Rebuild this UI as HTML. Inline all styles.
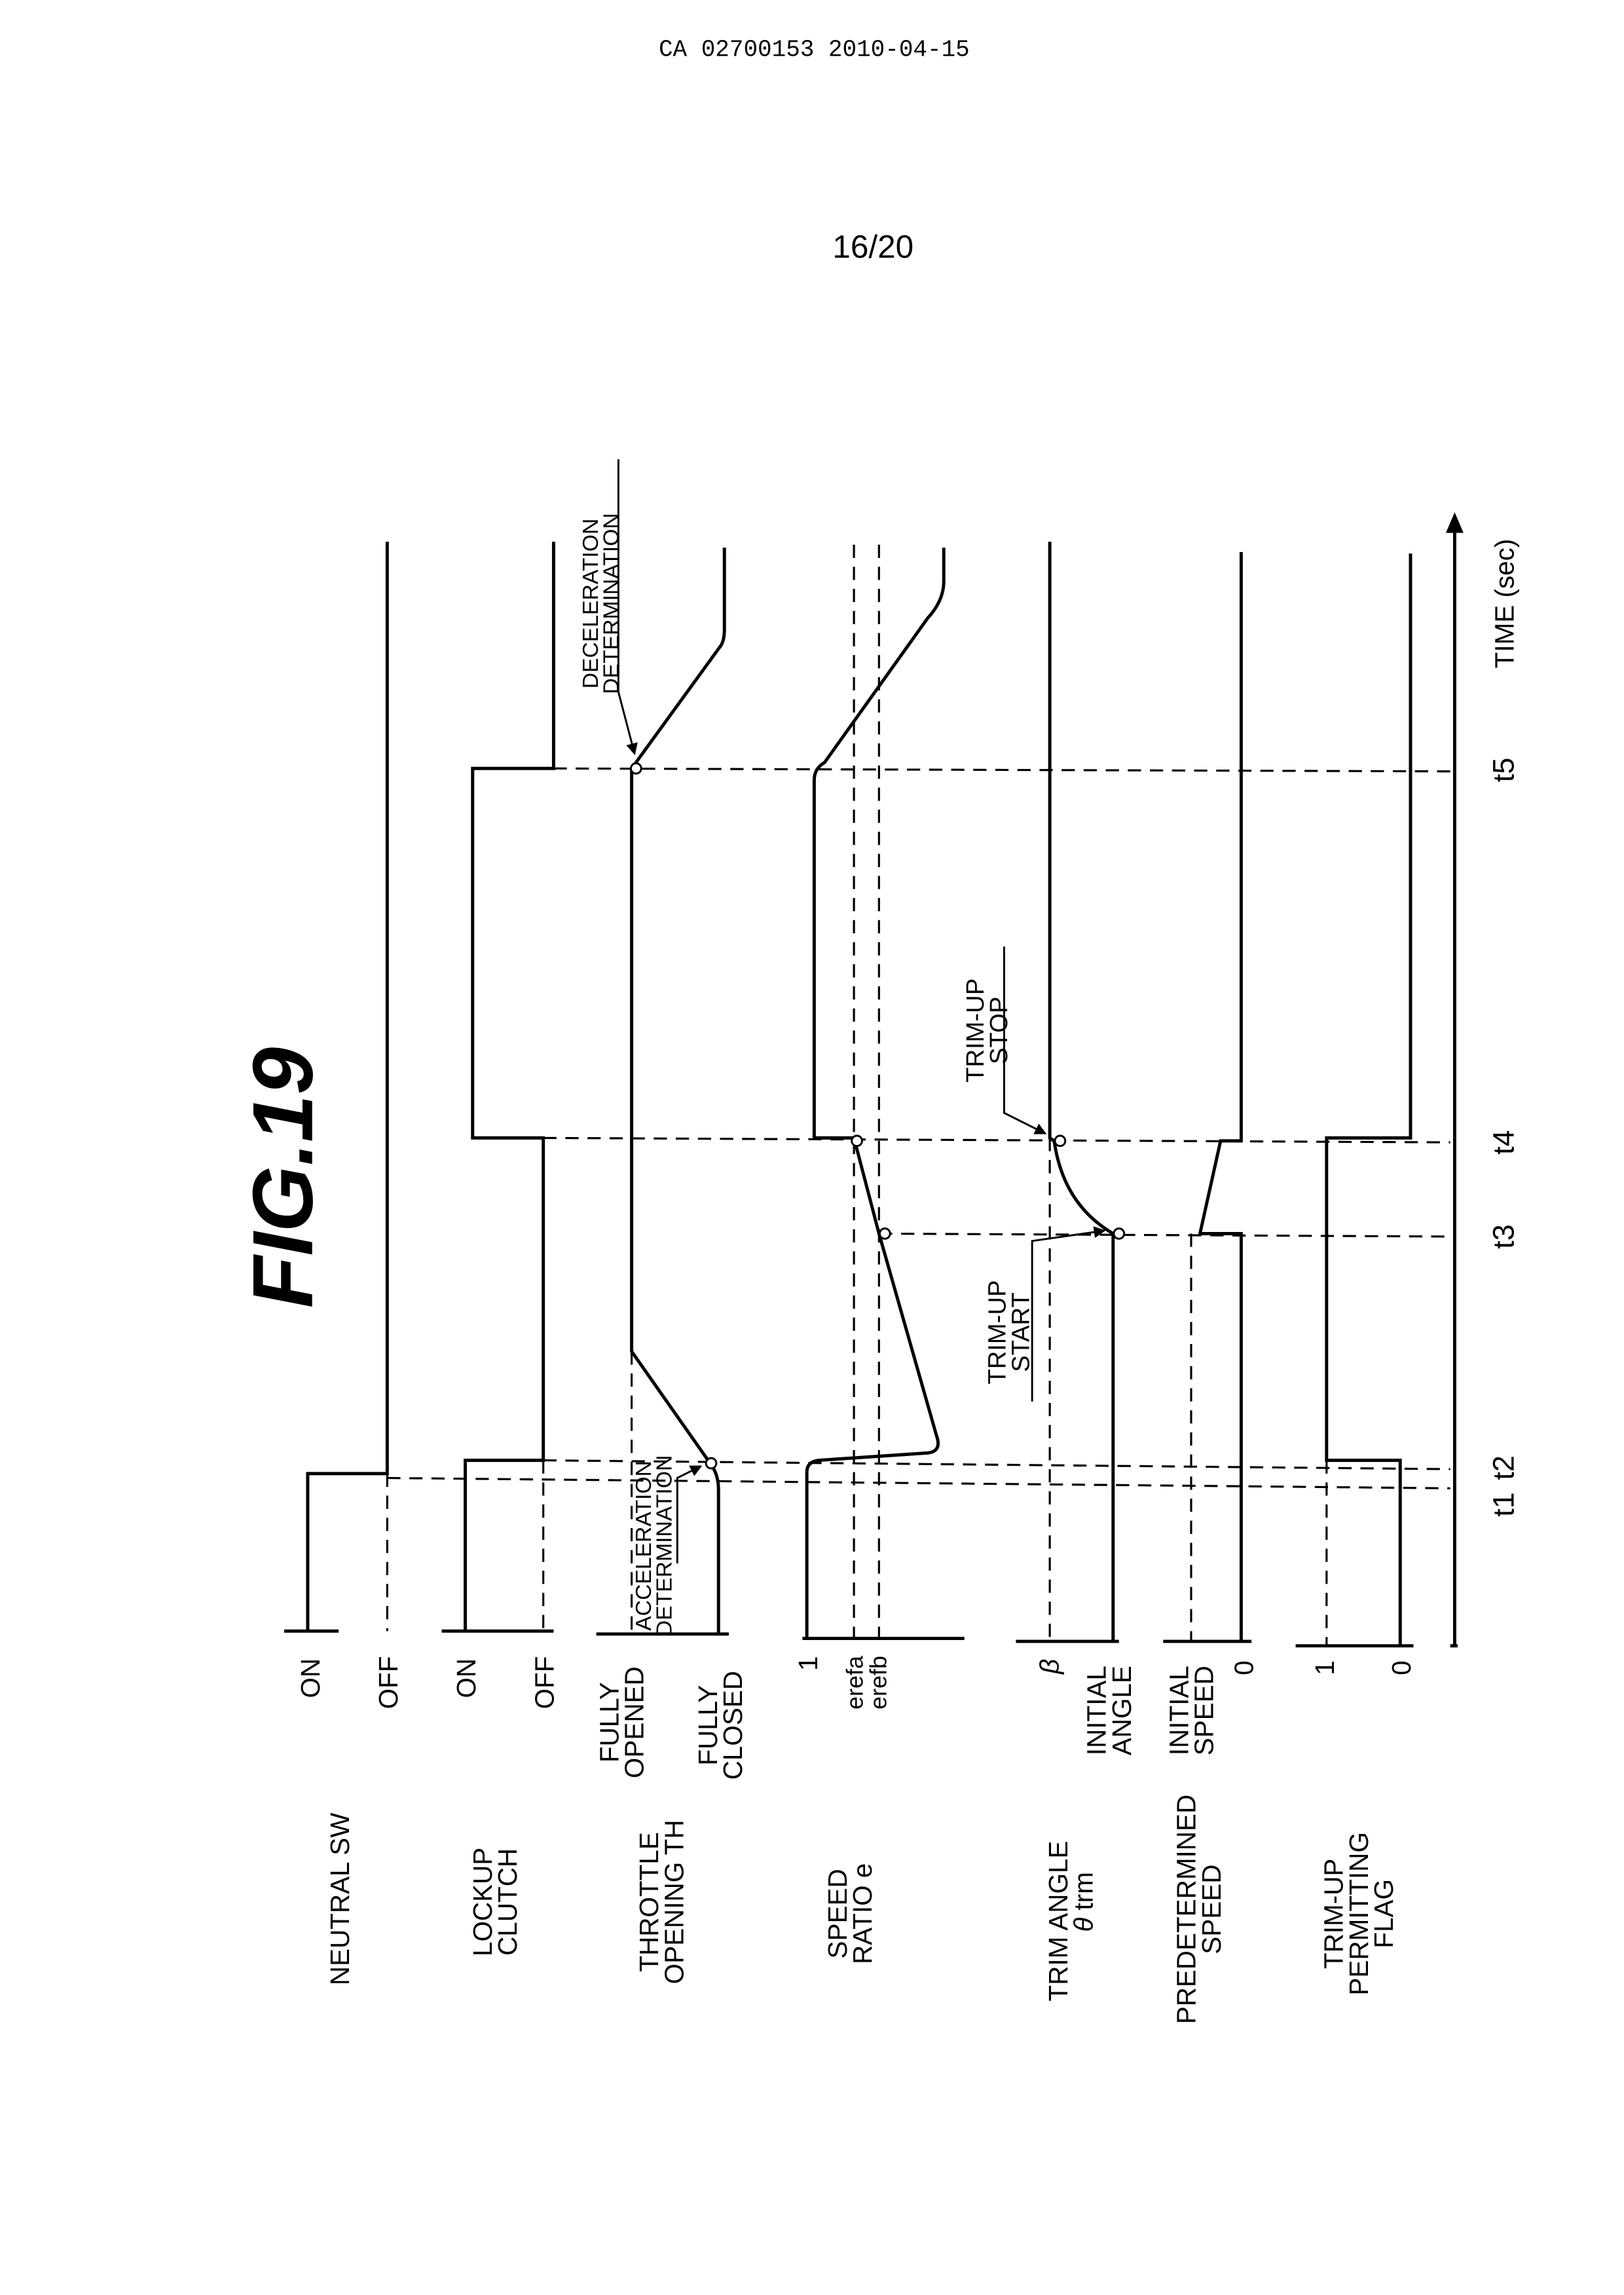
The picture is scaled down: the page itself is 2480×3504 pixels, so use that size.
<!DOCTYPE html>
<html><head><meta charset="utf-8"><style>
html,body{margin:0;padding:0;background:#fff;}
svg{display:block;}
text{font-family:"Liberation Sans",sans-serif;fill:#000;}
</style></head><body>
<svg width="2480" height="3504" viewBox="0 0 1103 1559" preserveAspectRatio="none" xmlns="http://www.w3.org/2000/svg">
<defs><marker id="ah" markerWidth="8" markerHeight="8" refX="7" refY="4" orient="auto" markerUnits="userSpaceOnUse"><path d="M0,0 L8,4 L0,8 z" fill="#000"/></marker></defs>
<text x="553" y="38" font-size="16" text-anchor="middle" style="font-family:'Liberation Mono',monospace">CA 02700153 2010-04-15</text>
<text x="593" y="175" font-size="22" text-anchor="middle">16/20</text>
<text transform="translate(212,800) rotate(-90)" font-size="58" font-weight="bold" font-style="italic" text-anchor="middle">FIG.19</text>

<g fill="none" stroke="#000" stroke-width="2.2">
<polyline points="209,1108 209,1001 263,1001 263,368"/>
<polyline points="316,1108 316,992 369,992 369,773 321,773 321,522 376,522 376,368"/>
<path d="M488,1110 L488,1012 Q488,1002 483,995 L429,918 L429,522 L490,438 Q492,434 492,428 L492,372"/>
<path d="M548,1113 L548,1000 Q548,993 556,992 L630,987 Q640,986 636,975 L597,838 L580,773 L553,773 L553,530 Q553,522 560,518 L630,420 Q641,408 641,395 L641,372"/>
<path d="M756,1115 L756,838 Q722,818 716,775 L713,773 L713,368"/>
<polyline points="843,1115 843,838 815,838 829,775 843,775 843,375"/>
<polyline points="951,1118 951,992 901,992 901,773 958,773 958,376"/>
<line x1="193" y1="1108" x2="230" y2="1108"/>
<line x1="300" y1="1108" x2="376" y2="1108"/>
<line x1="405" y1="1110" x2="495" y2="1110"/>
<line x1="545" y1="1113" x2="655" y2="1113"/>
<line x1="690" y1="1115" x2="760" y2="1115"/>
<line x1="790" y1="1115" x2="850" y2="1115"/>
<line x1="880" y1="1118" x2="960" y2="1118"/>
<line x1="985" y1="1118" x2="990" y2="1118"/>
<line x1="988" y1="1118" x2="988" y2="360"/>
</g>
<path d="M982,362 L988,348 L994,362 z" fill="#000"/>

<g fill="none" stroke="#000" stroke-width="1.4" stroke-dasharray="9,6">
<line x1="263" y1="1001" x2="263" y2="1108"/>
<line x1="369" y1="992" x2="369" y2="1108"/>
<line x1="429" y1="918" x2="429" y2="1110"/>
<line x1="580" y1="370" x2="580" y2="1113"/>
<line x1="597" y1="370" x2="597" y2="1113"/>
<line x1="713" y1="773" x2="713" y2="1115"/>
<line x1="809" y1="838" x2="809" y2="1115"/>
<line x1="901" y1="992" x2="901" y2="1118"/>
<line x1="263" y1="1004" x2="985" y2="1011"/>
<line x1="369" y1="992" x2="985" y2="998"/>
<line x1="597" y1="838" x2="985" y2="840"/>
<line x1="369" y1="773" x2="985" y2="776"/>
<line x1="376" y1="522" x2="985" y2="524"/>
</g>

<g fill="none" stroke="#000" stroke-width="1.3">
<polyline points="420,312 420,470 431,512" marker-end="url(#ah)"/>
<polyline points="460,1062 460,1004 476,996" marker-end="url(#ah)"/>
<polyline points="701,952 701,843 750,836" marker-end="url(#ah)"/>
<polyline points="682,643 682,756 710,770" marker-end="url(#ah)"/>
</g>
<g fill="#fff" stroke="#000" stroke-width="1.3">
<circle cx="432" cy="522" r="3.5"/>
<circle cx="483" cy="994" r="3.5"/>
<circle cx="582" cy="775" r="3.5"/>
<circle cx="601" cy="838" r="3.5"/>
<circle cx="720" cy="775" r="3.5"/>
<circle cx="760" cy="838" r="3.5"/>
</g>

<g font-size="16" text-anchor="middle">
<text transform="translate(1028,410) rotate(-90)" font-size="18">TIME (sec)</text>
<text transform="translate(1028,1022) rotate(-90)" font-size="20">t1</text>
<text transform="translate(1028,997) rotate(-90)" font-size="20">t2</text>
<text transform="translate(1028,840) rotate(-90)" font-size="20">t3</text>
<text transform="translate(1028,776) rotate(-90)" font-size="20">t4</text>
<text transform="translate(1028,523) rotate(-90)" font-size="20">t5</text>

<text transform="translate(406,410) rotate(-90)" font-size="15">DECELERATION</text>
<text transform="translate(420,410) rotate(-90)" font-size="15">DETERMINATION</text>
<text transform="translate(442,1050) rotate(-90)" font-size="15">ACCELERATION</text>
<text transform="translate(456,1050) rotate(-90)" font-size="15">DETERMINATION</text>
<text transform="translate(668,700) rotate(-90)" font-size="17">TRIM-UP</text>
<text transform="translate(684,700) rotate(-90)" font-size="17">STOP</text>
<text transform="translate(683,905) rotate(-90)" font-size="17">TRIM-UP</text>
<text transform="translate(699,905) rotate(-90)" font-size="17">START</text>

<g font-size="18">
<text transform="translate(217,1140) rotate(-90)">ON</text>
<text transform="translate(270,1143) rotate(-90)">OFF</text>
<text transform="translate(323,1140) rotate(-90)">ON</text>
<text transform="translate(376,1143) rotate(-90)">OFF</text>
<text transform="translate(420,1170) rotate(-90)">FULLY</text>
<text transform="translate(437,1170) rotate(-90)">OPENED</text>
<text transform="translate(487,1172) rotate(-90)">FULLY</text>
<text transform="translate(504,1172) rotate(-90)">CLOSED</text>
<text transform="translate(555,1130) rotate(-90)">1</text>
<text transform="translate(586,1143) rotate(-90)" font-size="16">erefa</text>
<text transform="translate(602,1143) rotate(-90)" font-size="16">erefb</text>
<text transform="translate(719,1132) rotate(-90)" font-style="italic">β</text>
<text transform="translate(751,1162) rotate(-90)">INITIAL</text>
<text transform="translate(768,1162) rotate(-90)">ANGLE</text>
<text transform="translate(807,1162) rotate(-90)">INITIAL</text>
<text transform="translate(824,1162) rotate(-90)">SPEED</text>
<text transform="translate(851,1133) rotate(-90)">0</text>
<text transform="translate(906,1133) rotate(-90)">1</text>
<text transform="translate(958,1133) rotate(-90)">0</text>

<text transform="translate(237,1290) rotate(-90)">NEUTRAL SW</text>
<text transform="translate(334,1292) rotate(-90)">LOCKUP</text>
<text transform="translate(351,1292) rotate(-90)">CLUTCH</text>
<text transform="translate(447,1292) rotate(-90)">THROTTLE</text>
<text transform="translate(464,1292) rotate(-90)">OPENING TH</text>
<text transform="translate(575,1300) rotate(-90)">SPEED</text>
<text transform="translate(592,1300) rotate(-90)">RATIO e</text>
<text transform="translate(725,1305) rotate(-90)">TRIM ANGLE</text>
<text transform="translate(742,1292) rotate(-90)"><tspan font-style="italic">θ</tspan> trm</text>
<text transform="translate(812,1297) rotate(-90)">PREDETERMINED</text>
<text transform="translate(829,1297) rotate(-90)">SPEED</text>
<text transform="translate(912,1300) rotate(-90)">TRIM-UP</text>
<text transform="translate(929,1300) rotate(-90)">PERMITTING</text>
<text transform="translate(946,1300) rotate(-90)">FLAG</text>
</g>
</g>
</svg>
</body></html>
